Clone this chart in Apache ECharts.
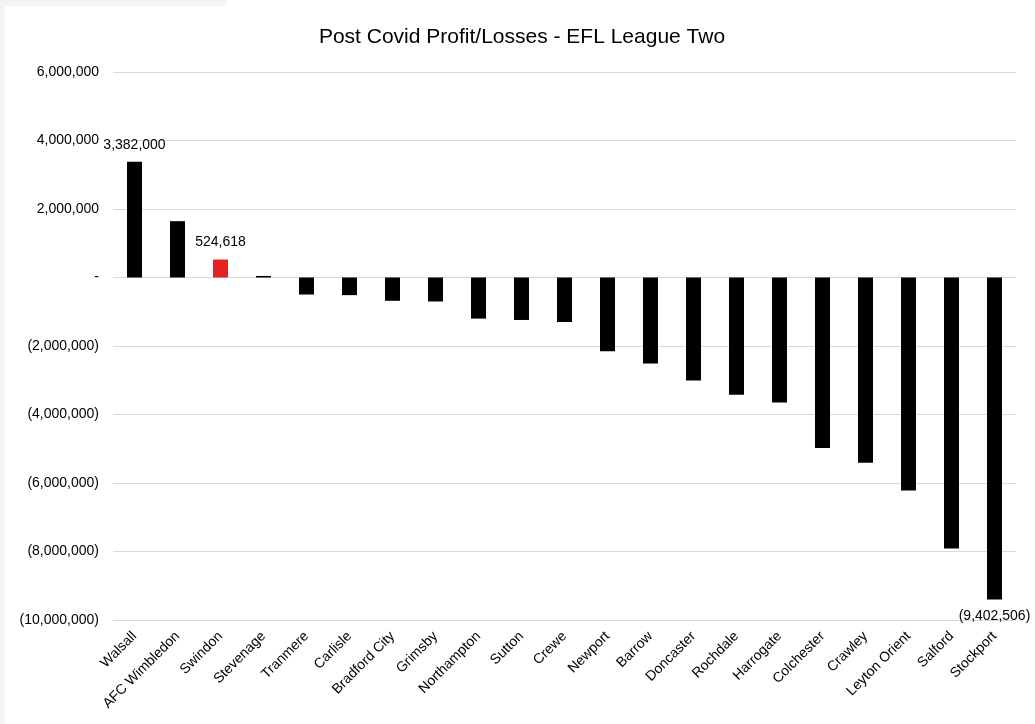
<!DOCTYPE html>
<html>
<head>
<meta charset="utf-8">
<script src="https://cdn.jsdelivr.net/npm/echarts@6/dist/echarts.min.js"></script>
<style>
  * { margin: 0; padding: 0; }
  body { background: #fff; }
  #chart-container { width: 1035px; height: 724px; }
</style>
</head>
<body>
<div id="chart-container"></div>
<script>
  // clubs in chart order, profit / loss after covid
  var clubs = ['Walsall', 'AFC Wimbledon', 'Swindon', 'Stevenage', 'Tranmere', 'Carlisle', 'Bradford City',
    'Grimsby', 'Northampton', 'Sutton', 'Crewe', 'Newport', 'Barrow', 'Doncaster', 'Rochdale', 'Harrogate',
    'Colchester', 'Crawley', 'Leyton Orient', 'Salford', 'Stockport']
  var profits = [3382000, 1645000, 524618, 45000, -497000, -515000, -680000,
    -700000, -1200000, -1240000, -1300000, -2155000, -2510000, -3010000, -3420000, -3650000,
    -4980000, -5410000, -6220000, -7910000, -9402506]
  var highlightClub = 'Swindon'
  var labelledClubs = ['Walsall', 'Swindon', 'Stockport']
  var yTicks = { min: -10000000, max: 6000000, step: 2000000 }

  function acct(v) {
    if (v === 0) return '-'
    var s = Math.abs(Math.round(v)).toString().replace(/\B(?=(\d{3})+(?!\d))/g, ',')
    return v < 0 ? '(' + s + ')' : s
  }

  var chartDom = document.getElementById('chart-container')
  var myChart = echarts.init(chartDom, null, { renderer: 'canvas' })

  var barData = profits.map(function (v, i) {
    var name = clubs[i]
    var showLabel = labelledClubs.indexOf(name) >= 0
    return {
      value: v,
      itemStyle: { color: name === highlightClub ? '#e32322' : '#000000' },
      label: {
        show: showLabel,
        position: v < 0 ? 'bottom' : 'top',
        distance: v < 0 ? 10 : 10,
      },
    }
  })

  var option = {
    animation: false,
    backgroundColor: '#ffffff',
    textStyle: { fontFamily: 'Liberation Sans, Arial, sans-serif' },
    graphic: [
      { type: 'rect', left: 0, top: 0, shape: { width: 226, height: 6 }, style: { fill: '#f4f4f4' }, silent: true },
      { type: 'rect', left: 0, top: 0, shape: { width: 5, height: 724 }, style: { fill: '#f4f4f4' }, silent: true },
    ],
    title: {
      text: 'Post Covid Profit/Losses - EFL League Two',
      left: 517,
      textAlign: 'center',
      top: 22,
      textStyle: {
        fontFamily: 'Liberation Sans, Arial, sans-serif',
        fontSize: 21,
        fontWeight: 'normal',
        color: '#000',
      },
    },
    grid: {
      left: 113,
      right: 19,
      top: 72,
      bottom: 104,
      containLabel: false,
    },
    xAxis: {
      type: 'category',
      data: clubs,
      axisLine: { show: false, onZero: false },
      axisTick: { show: false },
      axisLabel: {
        interval: 0,
        rotate: 45,
        margin: 14,
        fontSize: 14,
        color: '#000',
      },
    },
    yAxis: {
      type: 'value',
      min: yTicks.min,
      max: yTicks.max,
      interval: yTicks.step,
      axisLine: { show: false },
      axisTick: { show: false },
      splitLine: { lineStyle: { color: '#d9d9d9', width: 1 } },
      axisLabel: {
        margin: 14,
        fontSize: 14,
        color: '#000',
        formatter: acct,
      },
    },
    series: [
      {
        type: 'bar',
        data: barData,
        barWidth: 15,
        label: {
          fontSize: 14,
          color: '#000',
          formatter: function (p) { return acct(p.value) },
        },
      },
    ],
  }

  myChart.setOption(option)
  window.addEventListener('resize', myChart.resize)
</script>
</body>
</html>
